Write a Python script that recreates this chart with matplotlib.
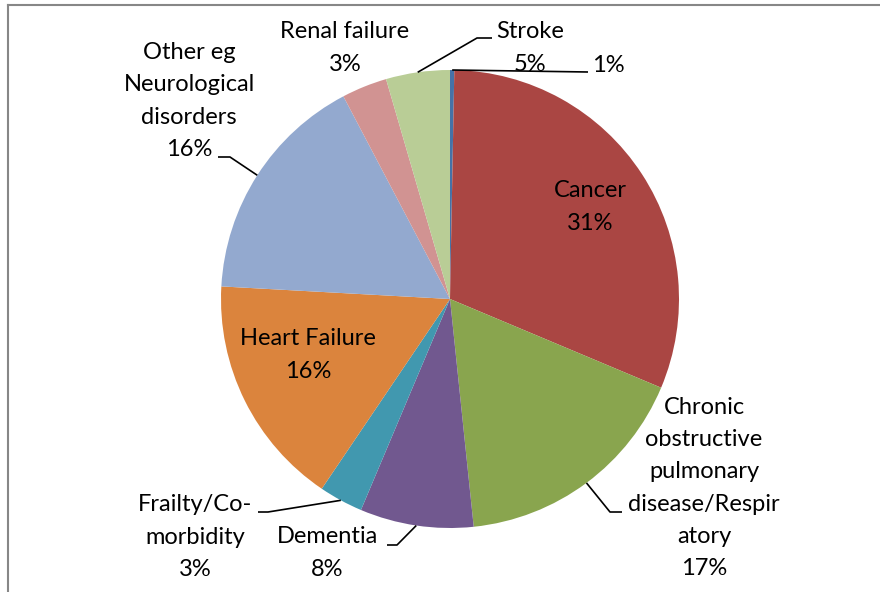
import numpy as np
import matplotlib
matplotlib.use("Agg")
import matplotlib.pyplot as plt

# data, in drawing order: clockwise from 12 o'clock
categories = ["", "Cancer", "Chronic\nobstructive\npulmonary\ndisease/Respir\natory",
              "Dementia", "Frailty/Co-\nmorbidity", "Heart Failure",
              "Other eg\nNeurological\ndisorders", "Renal failure", "Stroke"]
values = [0.3, 31, 17, 8, 3.1, 16.4, 16.4, 3.2, 4.5]
pct_labels = ["1%", "31%", "17%", "8%", "3%", "16%", "16%", "3%", "5%"]
colors = ["#4572A7", "#AA4643", "#89A54E", "#71588F", "#4198AF",
          "#DB843D", "#93A9CF", "#D19392", "#B9CD96"]

# label layout in pixel coords (x, y from top): text centre, elbow, line end
label_pos = [(608, 65), (590, 207), (704, 488), (327, 553), (195, 537),
             (308, 355), (189, 101), (345, 48), (530, 48)]
leaders = [[(588, 72)], None, [(610, 512), (622, 512)], [(397, 545), (387, 545)],
           [(268, 512), (258, 512)], None, [(230, 157), (218, 157)], None,
           [(477, 38), (492, 38)]]

W, H = 880, 592
plt.rcParams['font.family'] = ['Lato', 'DejaVu Sans']

def px(x, y):
    return x, H - y

fig = plt.figure(figsize=(8.8, 5.92), dpi=100)
ax = fig.add_axes([0, 0, 1, 1])
ax.set_aspect('equal')
ax.axis('off')

cx, cy = px(450, 299)
R = 229
wedges, _ = ax.pie(values, colors=colors, startangle=90, counterclock=False,
                   center=(cx, cy), radius=R, wedgeprops=dict(linewidth=0))
ax.set_xlim(0, W)
ax.set_ylim(0, H)

for i, w in enumerate(wedges):
    txt = categories[i] + "\n" + pct_labels[i] if categories[i] else pct_labels[i]
    tx, ty = px(*label_pos[i])
    ax.text(tx, ty, txt, ha='center', va='center', fontsize=17,
            linespacing=1.67, color='black')
    if leaders[i]:
        mid = np.deg2rad((w.theta1 + w.theta2) / 2)
        pts = [(cx + R * np.cos(mid), cy + R * np.sin(mid))]
        pts += [px(*p) for p in leaders[i]]
        xs, ys = zip(*pts)
        ax.plot(xs, ys, color='black', lw=1.2, solid_capstyle='butt')

# chart area border (cut off at right and bottom like the source)
ax.plot([8, W + 5], [H - 4.5, H - 4.5], color='#878787', lw=1.5, clip_on=False)
ax.plot([8, 8], [H - 4.5, -5], color='#878787', lw=1.5, clip_on=False)

fig.savefig("out.png", dpi=100)
